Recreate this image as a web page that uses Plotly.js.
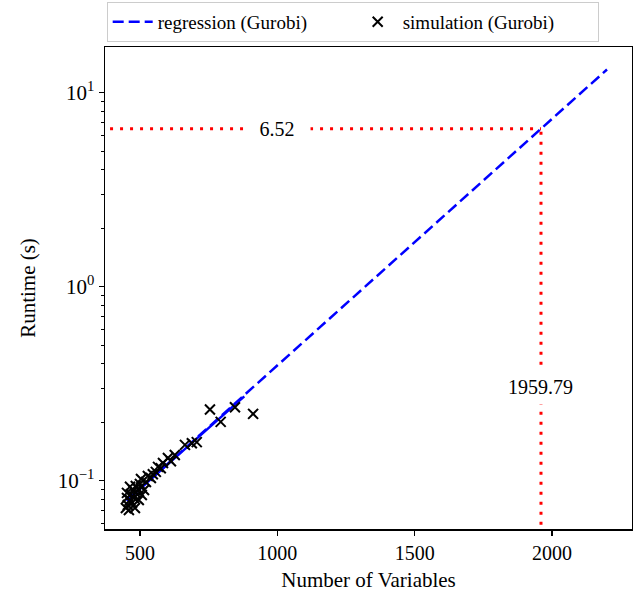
<!DOCTYPE html>
<html>
<head>
<meta charset="utf-8">
<script src="https://cdn.plot.ly/plotly-3.0.1.min.js"></script>
<style>html,body{margin:0;padding:0;background:#fff;}#chart{width:633px;height:594px;}</style>
</head>
<body>
<div id="chart"></div>
<script>
// Simulation points (Gurobi): number of variables vs runtime (s)
const simX = [449, 456, 464, 453, 471, 478, 467, 485, 475, 493, 485, 500, 460, 482, 496, 507, 515, 504, 522, 529, 540, 547, 558, 566, 584, 576, 602, 627, 613, 664, 689, 707, 755, 846, 912, 794, 453, 464];
const simY = [0.0723, 0.075, 0.0796, 0.0815, 0.0767, 0.0815, 0.0853, 0.0864, 0.0895, 0.0906, 0.0939, 0.0962, 0.0706, 0.0723, 0.0796, 0.0844, 0.0895, 0.102, 0.0985, 0.1057, 0.1033, 0.108, 0.111, 0.1178, 0.1233, 0.116, 0.131, 0.1356, 0.126, 0.153, 0.156, 0.158, 0.233, 0.239, 0.221, 0.201, 0.0865, 0.093];

// Regression line (Gurobi) — extrapolated (dashed) and fitted range (solid)
const regX = [452, 1959.79, 2200];
const regY = [0.0789, 6.52, 13.17];
const fitX = [452, 880];
const fitY = [0.0789, 0.272];

// Marked point
const markX = [1959.79];
const markY = [6.52];
const markXLabel = ["1959.79"];
const markYLabel = ["6.52"];

const xRange = [373, 2291];
const yRangeLog = [-1.249, 1.2356];

const font = "Liberation Serif, Times New Roman, serif";

const traces = [
  {
    x: [xRange[0] - 200, markX[0]], y: [markY[0], markY[0]],
    mode: "lines", line: {color: "#ff0000", width: 3, dash: "3px,7px"},
    showlegend: false, hoverinfo: "skip"
  },
  {
    x: [markX[0], markX[0]], y: [0.01, markY[0]],
    mode: "lines", line: {color: "#ff0000", width: 3, dash: "3px,7px"},
    showlegend: false, hoverinfo: "skip"
  },
  {
    x: fitX, y: fitY, mode: "lines",
    line: {color: "#0000ff", width: 2.5},
    showlegend: false, hoverinfo: "skip"
  },
  {
    x: regX, y: regY, mode: "lines", name: "regression (Gurobi)",
    line: {color: "#0000ff", width: 2.5, dash: "11px,5px"}
  },
  {
    x: simX, y: simY, mode: "markers", name: "simulation (Gurobi)",
    marker: {symbol: "x-thin", size: 10, color: "black", line: {color: "black", width: 2}}
  }
];

const minorVals = [];
[0.01, 0.1, 1].forEach(d => { for (let k = 2; k <= 9; k++) minorVals.push(+(d * k).toPrecision(3)); });

const layout = {
  width: 633, height: 594,
  margin: {l: 105, r: 1, t: 47, b: 65},
  paper_bgcolor: "white", plot_bgcolor: "white",
  font: {family: font, size: 20, color: "black"},
  showlegend: true,
  legend: {
    orientation: "h", x: 0.47, xanchor: "center", y: 1.052, yanchor: "middle",
    bordercolor: "#cccccc", borderwidth: 1, bgcolor: "white",
    font: {family: font, size: 19}, entrywidth: 190, itemwidth: 40
  },
  xaxis: {
    range: xRange, type: "linear",
    tickvals: [500, 1000, 1500, 2000], ticktext: ["500", "1000", "1500", "2000"],
    ticks: "outside", ticklen: 5, tickwidth: 1.2, tickcolor: "black",
    showline: true, linecolor: "black", linewidth: 1.5, mirror: true,
    showgrid: false, zeroline: false,
    tickfont: {family: font, size: 20},
    title: {text: "Number of Variables", font: {family: font, size: 21}, standoff: 10}
  },
  yaxis: {
    type: "log", range: yRangeLog,
    tickvals: [0.1, 1, 10], ticktext: ["10<sup>\u22121</sup>", "10<sup>0</sup>", "10<sup>1</sup>"],
    ticks: "outside", ticklen: 5, tickwidth: 1.2, tickcolor: "black",
    minor: {tickvals: minorVals, ticks: "outside", ticklen: 3, tickwidth: 1, tickcolor: "black", showgrid: false},
    showline: true, linecolor: "black", linewidth: 1.5, mirror: true,
    showgrid: false, zeroline: false,
    tickfont: {family: font, size: 21},
    title: {text: "Runtime (s)", font: {family: font, size: 21}, standoff: 16}
  },
  annotations: [
    {x: 1000, y: Math.log10(markY[0]), xref: "x", yref: "y", text: markYLabel[0],
     showarrow: false, bgcolor: "white", borderpad: 2, font: {family: font, size: 20},
     xanchor: "center", yanchor: "middle", width: 62},
    {x: markX[0], y: Math.log10(0.304), xref: "x", yref: "y", text: markXLabel[0],
     showarrow: false, bgcolor: "white", borderpad: 6, font: {family: font, size: 20},
     xanchor: "center", yanchor: "middle"}
  ]
};

Plotly.newPlot("chart", traces, layout, {staticPlot: true, displayModeBar: false});
</script>
</body>
</html>
